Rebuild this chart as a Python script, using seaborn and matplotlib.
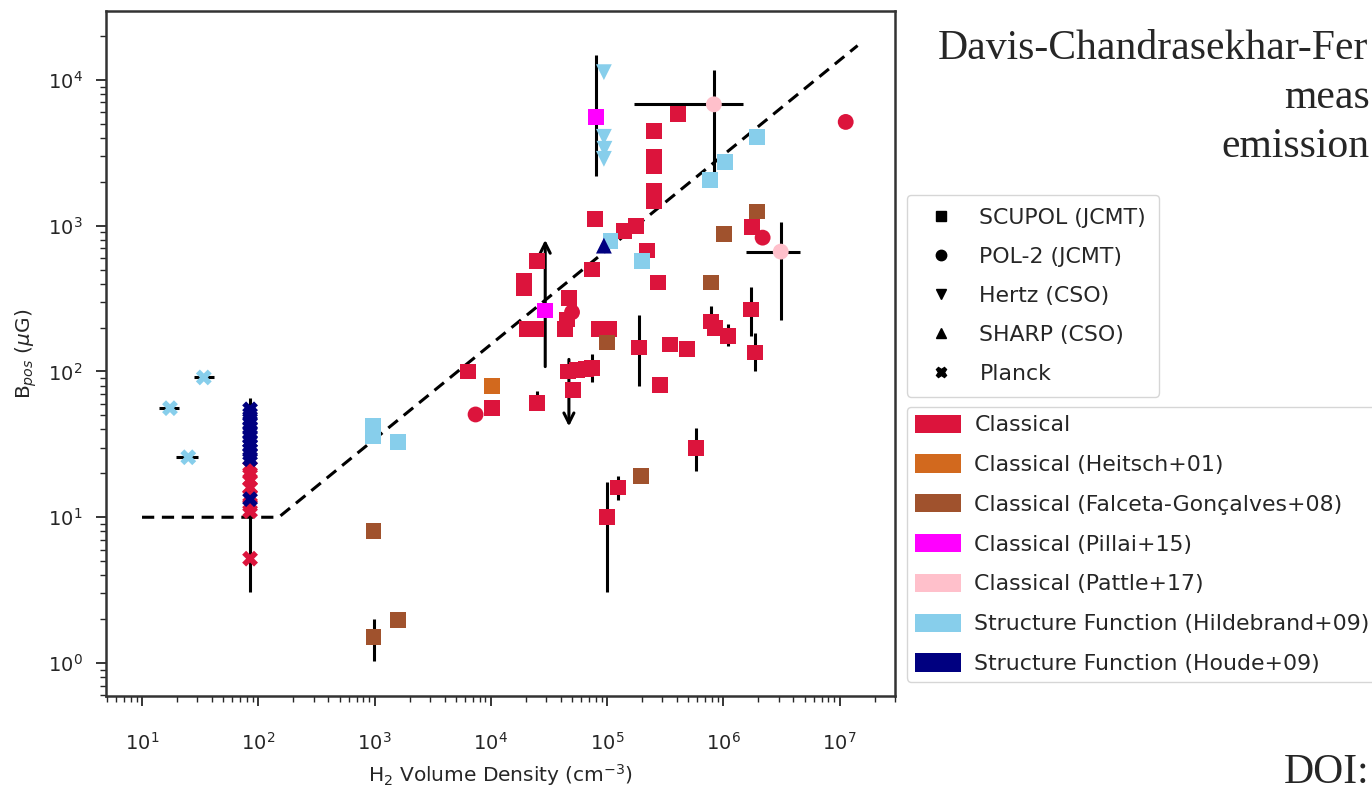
import numpy as np
import pandas as pd
import matplotlib
matplotlib.use("Agg")
import matplotlib.pyplot as plt
import seaborn as sns
from matplotlib.lines import Line2D
from matplotlib.patches import Patch

# ---- data: (H2 density [cm^-3], B_pos [uG]) per method / instrument ----
classical_scupol_n = [6.4e3, 1.03e4, 2.5e4, 4.6e4, 5.5e4, 6.6e4, 7.4e4, 5.1e4, 1.88e5, 2.85e5,
                      3.5e5, 4.9e5, 5.8e5, 1.24e5, 1.0e5, 1.86e6, 1.72e6, 1.76e6, 7.8e5, 8.5e5,
                      1.09e6, 2.74e5, 4.06e5, 2.53e5, 2.53e5, 2.53e5, 2.53e5, 2.53e5, 7.9e4, 1.4e5,
                      1.77e5, 2.2e5, 7.4e4, 2.5e4, 1.92e4, 1.92e4, 4.7e4, 4.5e4, 2.05e4, 2.45e4,
                      4.35e4, 8.5e4, 1.05e5]
classical_scupol_b = [100, 56, 61, 100, 103, 104, 106, 75, 146, 81,
                      153, 143, 30, 16, 10, 135, 266, 985, 220, 200,
                      174, 408, 5850, 4480, 2970, 2580, 1740, 1480, 1117, 925,
                      1000, 675, 500, 575, 418, 376, 321, 227, 195, 195,
                      195, 195, 195]
classical_pol2_n = [7.4e3, 5.0e4, 2.18e6, 1.13e7]
classical_pol2_b = [50.7, 255, 828, 5150]
classical_planck_n = [85, 85, 85, 85, 85, 85, 85, 85]
classical_planck_b = [22, 20, 18, 16, 14, 12, 11, 5.2]
heitsch_n = [1.03e4]
heitsch_b = [79]
falceta_n = [980, 1.6e3, 980, 1.96e5, 1.0e5, 1.94e6, 1.01e6, 7.8e5]
falceta_b = [8.0, 1.97, 1.5, 19.1, 158, 1250, 880, 408]
pillai_n = [2.94e4, 8.05e4]
pillai_b = [262, 5580]
pattle_n = [8.3e5, 3.12e6]
pattle_b = [6800, 664]
hildebrand_scupol_n = [977, 977, 1.6e3, 7.7e5, 1.03e6, 1.94e6, 1.07e5, 2.0e5]
hildebrand_scupol_b = [42, 36, 32.7, 2065, 2740, 4070, 790, 575]
hildebrand_hertz_n = [9.4e4, 9.4e4, 9.5e4, 9.4e4]
hildebrand_hertz_b = [11300, 4070, 3370, 2875]
hildebrand_planck_n = [17.4, 34, 25]
hildebrand_planck_b = [56, 91, 25.8]
houde_sharp_n = [9.4e4]
houde_sharp_b = [730]
houde_planck_n = [85] * 13
houde_planck_b = [55, 51, 47, 44, 41, 38, 35.5, 33, 31, 29, 27, 25, 13.3]

# error bars: n, B, n_low, n_high, B_low, B_high (None = no bar on that axis)
error_bars = [
    (17.4, 56, 14.0, 20.8, None, None),
    (34, 91, 27.9, 41.5, None, None),
    (25, 25.8, 19.6, 30.3, None, None),
    (85, 5.2, None, None, 3.06, 66),
    (980, 1.5, None, None, 1.03, 2.0),
    (1.0e5, 10, None, None, 3.06, 17.4),
    (1.24e5, 16, None, None, 13.1, 19.1),
    (5.8e5, 30, None, None, 20.7, 41),
    (2.5e4, 61, None, None, 55, 73),
    (1.88e5, 146, None, None, 80, 245),
    (7.4e4, 106, None, None, 85, 131),
    (8.05e4, 5580, None, None, 2200, 14800),
    (8.3e5, 6800, 1.7e5, 1.47e6, 2200, 11700),
    (3.12e6, 664, 1.56e6, 4.6e6, 227, 1064),
    (7.8e5, 220, None, None, 200, 280),
    (1.09e6, 174, None, None, 150, 210),
    (1.72e6, 266, None, None, 174, 382),
    (1.86e6, 135, None, None, 100, 185),
]
# limits drawn as arrows: n, B_start, B_end
limit_arrows = [
    (4.7e4, 121, 42),     # upper limit
    (2.94e4, 108, 800),   # lower limit
]

# model upper envelope: flat 10 uG, then rising power law
envelope_n = [10, 150, 1.43e7]
envelope_b = [10, 10, 1.72e4]

x_ticks = [1e1, 1e2, 1e3, 1e4, 1e5, 1e6, 1e7]
y_ticks = [1e0, 1e1, 1e2, 1e3, 1e4]

methods = ["Classical", "Classical (Heitsch+01)", "Classical (Falceta-Gonçalves+08)",
           "Classical (Pillai+15)", "Classical (Pattle+17)",
           "Structure Function (Hildebrand+09)", "Structure Function (Houde+09)"]
method_colors = ["#dc143c", "#d2691e", "#a0522d", "#ff00ff", "#ffc0cb", "#87ceeb", "#000080"]
instruments = ["SCUPOL (JCMT)", "POL-2 (JCMT)", "Hertz (CSO)", "SHARP (CSO)", "Planck"]
instrument_markers = ["s", "o", "v", "^", "X"]

groups = [
    (classical_scupol_n, classical_scupol_b, methods[0], instruments[0]),
    (classical_pol2_n, classical_pol2_b, methods[0], instruments[1]),
    (classical_planck_n, classical_planck_b, methods[0], instruments[4]),
    (heitsch_n, heitsch_b, methods[1], instruments[0]),
    (falceta_n, falceta_b, methods[2], instruments[0]),
    (pillai_n, pillai_b, methods[3], instruments[0]),
    (pattle_n, pattle_b, methods[4], instruments[1]),
    (hildebrand_scupol_n, hildebrand_scupol_b, methods[5], instruments[0]),
    (hildebrand_hertz_n, hildebrand_hertz_b, methods[5], instruments[2]),
    (hildebrand_planck_n, hildebrand_planck_b, methods[5], instruments[4]),
    (houde_sharp_n, houde_sharp_b, methods[6], instruments[3]),
    (houde_planck_n, houde_planck_b, methods[6], instruments[4]),
]
df = pd.concat([pd.DataFrame({"n": n, "B": b, "method": m, "instrument": i})
                for n, b, m, i in groups], ignore_index=True)

sns.set_style("ticks")
plt.rcParams["font.family"] = ["DejaVu Sans"]

fig = plt.figure(figsize=(13.72, 7.92), dpi=100)
ax = fig.add_axes([106 / 1372, 1 - 696 / 792, 789 / 1372, 685 / 792])
ax.set_xscale("log")
ax.set_yscale("log")

# envelope
ax.plot(envelope_n, envelope_b, ls=(0, (4, 2.5)), color="black", lw=2.2, zorder=1)

# error bars
for n, b, nlo, nhi, blo, bhi in error_bars:
    xerr = None if nlo is None else [[n - nlo], [nhi - n]]
    yerr = None if blo is None else [[b - blo], [bhi - b]]
    ax.errorbar([n], [b], xerr=xerr, yerr=yerr, fmt="none", ecolor="black",
                elinewidth=2.2, capsize=0, zorder=1.5)
for n, b0, b1 in limit_arrows:
    ax.annotate("", xy=(n, b1), xytext=(n, b0),
                arrowprops=dict(arrowstyle="->", color="black", lw=2.2,
                                mutation_scale=18, shrinkA=0, shrinkB=0), zorder=1.5)

sns.scatterplot(data=df, x="n", y="B", hue="method", style="instrument",
                hue_order=methods, palette=dict(zip(methods, method_colors)),
                style_order=instruments, markers=dict(zip(instruments, instrument_markers)),
                s=130, linewidth=0, legend=False, ax=ax, zorder=2)

ax.set_xlim(4.9, 3.0e7)
ax.set_ylim(0.594, 2.97e4)
ax.set_xticks(x_ticks)
ax.set_yticks(y_ticks)
ax.set_xlabel("H$_2$ Volume Density (cm$^{-3}$)", fontsize=14.5, labelpad=6)
ax.set_ylabel("B$_{pos}$ ($\\mu$G)", fontsize=14.5, labelpad=6)
ax.tick_params(axis="both", which="major", labelsize=14, length=7, width=1.3, direction="out")
ax.tick_params(axis="both", which="minor", length=4, width=1.0, direction="out")
ax.tick_params(axis="x", which="major", pad=19)
ax.tick_params(axis="y", which="major", pad=10)
for sp in ax.spines.values():
    sp.set_linewidth(1.8)
    sp.set_color("#333333")
    sp.set_visible(True)

# legends
inst_handles = [Line2D([], [], ls="none", marker=m, color="black", markersize=7.5)
                for m in instrument_markers]
leg1 = fig.legend(inst_handles, instruments, loc="upper left",
                  bbox_to_anchor=(907 / 1372, 1 - 195 / 792), borderaxespad=0,
                  fontsize=15.8, frameon=True, handlelength=1.9, handletextpad=0.8,
                  labelspacing=0.86, borderpad=0.6)
method_handles = [Patch(facecolor=c, edgecolor="none") for c in method_colors]
leg2 = fig.legend(method_handles, methods, loc="upper left",
                  bbox_to_anchor=(907 / 1372, 1 - 407 / 792), borderaxespad=0,
                  fontsize=15.8, frameon=True, handlelength=2.1, handleheight=0.9,
                  handletextpad=0.62, labelspacing=0.87, borderpad=0.35)

# caption text beside the plot
serif = ["Liberation Serif", "DejaVu Serif"]
fig.text(938 / 1372, 1 - 59 / 792, "Davis-Chandrasekhar-Fer", fontsize=30,
         family=serif, va="baseline", ha="left")
fig.text(1284 / 1372, 1 - 108 / 792, "meas", fontsize=30, family=serif, va="baseline", ha="left")
fig.text(1221 / 1372, 1 - 157 / 792, "emission", fontsize=30, family=serif, va="baseline", ha="left")
fig.text(1284 / 1372, 1 - 783 / 792, "DOI:", fontsize=30, family=serif, va="baseline", ha="left")

fig.savefig("out.png", dpi=100)
